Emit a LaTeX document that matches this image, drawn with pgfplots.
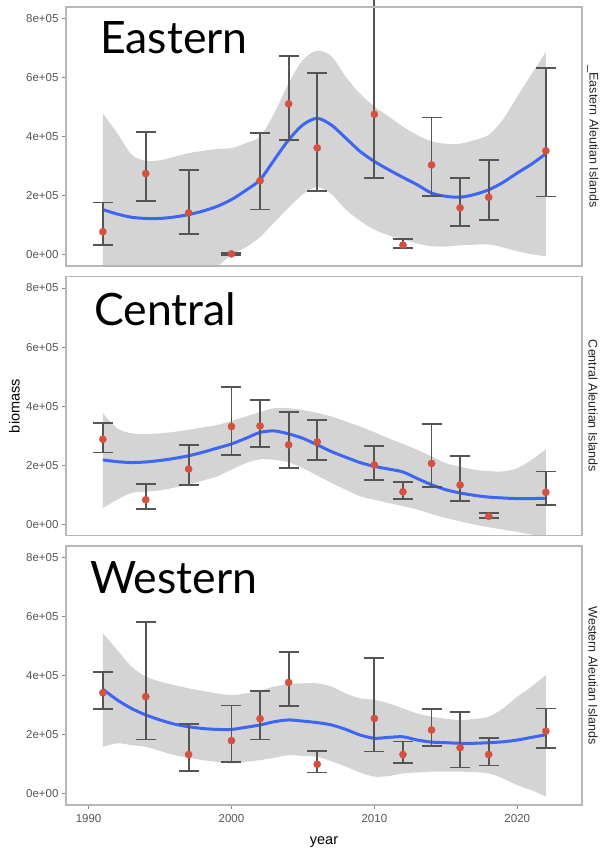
\documentclass[border=0pt]{standalone}
\usepackage{pgfplots}
\pgfplotsset{compat=1.18}
\usepackage{pgfplotstable}
\usepgfplotslibrary{fillbetween}
\usepackage{fontspec}
\setmainfont{Liberation Sans}
\newfontfamily\bigfont{Lato}

\definecolor{boxgray}{HTML}{B8B8B8}
\definecolor{tickgray}{HTML}{8A8A8A}
\definecolor{ticktext}{HTML}{555555}
\definecolor{bandgray}{HTML}{D4D4D4}
\definecolor{fitblue}{HTML}{3D66F2}
\definecolor{ptred}{HTML}{D6503E}
\definecolor{errgray}{HTML}{555555}

% points: year, value, lower, upper (thousands)
\pgfplotstableread{
x y lo hi
1991 78 34 177
1994 275 183 415
1997 142 71 286
2000 3 0 7
2002 251 153 413
2004 511 389 674
2006 362 215 615
2010 476 260 870
2012 33 22 54
2014 304 199 465
2016 159 97 261
2018 195 118 321
2022 352 197 632
}\eastpts
\pgfplotstableread{
x f u l
1991 153 479 -173
1992 138 412 -130
1993 127 340 -90
1994 123 318 -75
1995 123 320 -72
1996 128 332 -72
1997 136 344 -72
1998 148 352 -55
1999 164 358 -39
2000 187 361 0
2001 218 378 25
2002 254 400 60
2003 322 480 110
2004 389 581 159
2005 440 660 205
2006 462 691 230
2007 439 672 205
2008 395 603 153
2009 350 545 115
2010 316 502 85
2011 288 468 66
2012 262 434 52
2013 237 405 38
2014 209 384 29
2015 198 376 28
2016 195 376 32
2017 204 388 34
2018 220 406 35
2019 245 458 25
2020 277 536 12
2021 307 612 2
2022 342 687 -5
}\eastfit

\pgfplotstableread{
x y lo hi
1991 288 243 342
1994 83 53 136
1997 187 132 268
2000 331 235 465
2002 333 263 420
2004 269 191 380
2006 279 218 354
2010 201 151 264
2012 110 86 144
2014 206 125 339
2016 133 79 230
2018 27 21 37
2022 108 65 179
}\centpts
\pgfplotstableread{
x f u l
1991 218 376 55
1992 212 325 83
1993 209 308 106
1994 211 306 110
1995 216 308 115
1996 223 313 124
1997 232 320 134
1998 244 328 148
1999 258 336 162
2000 272 350 185
2001 291 365 207
2002 311 380 220
2003 316 393 218
2004 306 393 210
2005 291 387 190
2006 269 377 165
2007 246 365 140
2008 227 348 117
2009 209 331 95
2010 196 312 83
2011 187 291 72
2012 177 272 61
2013 155 252 50
2014 134 230 35
2015 117 207 21
2016 106 195 10
2017 98 185 -1
2018 92 180 -10
2019 89 179 -18
2020 87 190 -26
2021 87 218 -35
2022 88 254 -42
}\centfit

\pgfplotstableread{
x y lo hi
1991 342 287 412
1994 329 184 582
1997 133 78 236
2000 180 108 299
2002 254 184 348
2004 377 296 479
2006 100 72 145
2010 255 143 460
2012 133 103 177
2014 216 163 287
2016 156 89 276
2018 133 96 188
2022 212 156 289
}\westpts
\pgfplotstableread{
x f u l
1991 354 544 159
1992 318 487 171
1993 289 431 165
1994 267 397 159
1995 250 380 145
1996 236 368 131
1997 227 357 122
1998 221 348 114
1999 218 340 108
2000 218 334 103
2001 225 340 108
2002 233 350 114
2003 244 363 122
2004 250 372 131
2005 246 374 128
2006 241 374 125
2007 233 363 110
2008 218 340 92
2009 199 323 72
2010 188 318 58
2011 191 306 60
2012 193 289 69
2013 182 272 72
2014 175 261 75
2015 173 254 75
2016 171 250 75
2017 171 253 73
2018 173 261 69
2019 176 289 52
2020 182 329 29
2021 191 363 12
2022 200 402 -10
}\westfit

\pgfplotsset{
  panel/.style={
    scale only axis, width=516pt, height=259pt, anchor=north west,
    xmin=1988.42, xmax=2024.53, ymin=-38, ymax=839,
    axis line style={draw=boxgray, line width=1.3pt},
    ytick={0,200,400,600,800},
    yticklabels={0e+00,2e+05,4e+05,6e+05,8e+05},
    tick align=outside, tick pos=left, major tick length=4pt,
    tick style={draw=tickgray, line width=0.9pt},
    tick label style={font=\fontsize{11.5}{13}\selectfont, text=ticktext},
    scaled y ticks=false, scaled x ticks=false,
    axis on top,
  },
  nox/.style={xtick=\empty},
  over/.style={panel, hide axis, clip=false},
  pts/.style={only marks, mark=*, mark size=3.6pt,
    mark options={fill=ptred, draw=ptred},
    error bars/.cd, y dir=both, y explicit, error mark=|,
    error bar style={draw=errgray, line width=1.8pt},
    error mark options={draw=errgray, line width=1.8pt, mark size=10pt}},
}

\newcommand{\band}[1]{%
  \addplot[name path=U, draw=none, smooth] table[x=x, y=u] {#1};
  \addplot[name path=L, draw=none, smooth] table[x=x, y=l] {#1};
  \addplot[fill=bandgray, draw=none] fill between[of=U and L];
  \addplot[fitblue, line width=3pt, smooth] table[x=x, y=f] {#1};
}
\newcommand{\pts}[1]{%
  \addplot[pts] table[x=x, y=y, y error plus expr=\thisrow{hi}-\thisrow{y},
    y error minus expr=\thisrow{y}-\thisrow{lo}] {#1};
}

\begin{document}
\begin{tikzpicture}

% Eastern
\begin{axis}[panel, nox, at={(66pt,-7pt)}]
\band{\eastfit}
\end{axis}
\begin{axis}[over, nox, at={(66pt,-7pt)}]
\pts{\eastpts}
\end{axis}

% Central
\begin{axis}[panel, nox, at={(66pt,-276.5pt)}]
\band{\centfit}
\end{axis}
\begin{axis}[over, nox, at={(66pt,-276.5pt)}]
\pts{\centpts}
\end{axis}

% Western
\begin{axis}[panel, at={(66pt,-546pt)},
  xtick={1990,2000,2010,2020}, xticklabels={1990,2000,2010,2020},
  xticklabel style={yshift=-2pt}]
\band{\westfit}
\end{axis}
\begin{axis}[over, nox, at={(66pt,-546pt)}]
\pts{\westpts}
\end{axis}

% big overlay labels
\node[anchor=base west, inner sep=0pt, font=\bigfont\fontsize{44.6}{50}\selectfont] at (100pt,-53.3pt) {Eastern};
\node[anchor=base west, inner sep=0pt, font=\bigfont\fontsize{44.6}{50}\selectfont] at (94pt,-325pt) {Central};
\node[anchor=base west, inner sep=0pt, font=\bigfont\fontsize{44.6}{50}\selectfont] at (90pt,-593.3pt) {Western};

% strip labels
\node[rotate=-90, inner sep=0pt, text=black!85, font=\fontsize{12.5}{14}\selectfont] at (593pt,-136.5pt) {\_Eastern Aleutian Islands};
\node[rotate=-90, inner sep=0pt, text=black!85, font=\fontsize{12.5}{14}\selectfont] at (593pt,-406pt) {Central Aleutian Islands};
\node[rotate=-90, inner sep=0pt, text=black!85, font=\fontsize{12.5}{14}\selectfont] at (593pt,-675.5pt) {Western Aleutian Islands};

% axis titles
\node[rotate=90, inner sep=0pt, font=\fontsize{14.5}{16}\selectfont] at (14.5pt,-406pt) {biomass};
\node[anchor=base, inner sep=0pt, font=\fontsize{14.5}{16}\selectfont] at (324pt,-844pt) {year};

\pgfresetboundingbox
\useasboundingbox (0,0) rectangle (608pt,-848pt);
\end{tikzpicture}
\end{document}
